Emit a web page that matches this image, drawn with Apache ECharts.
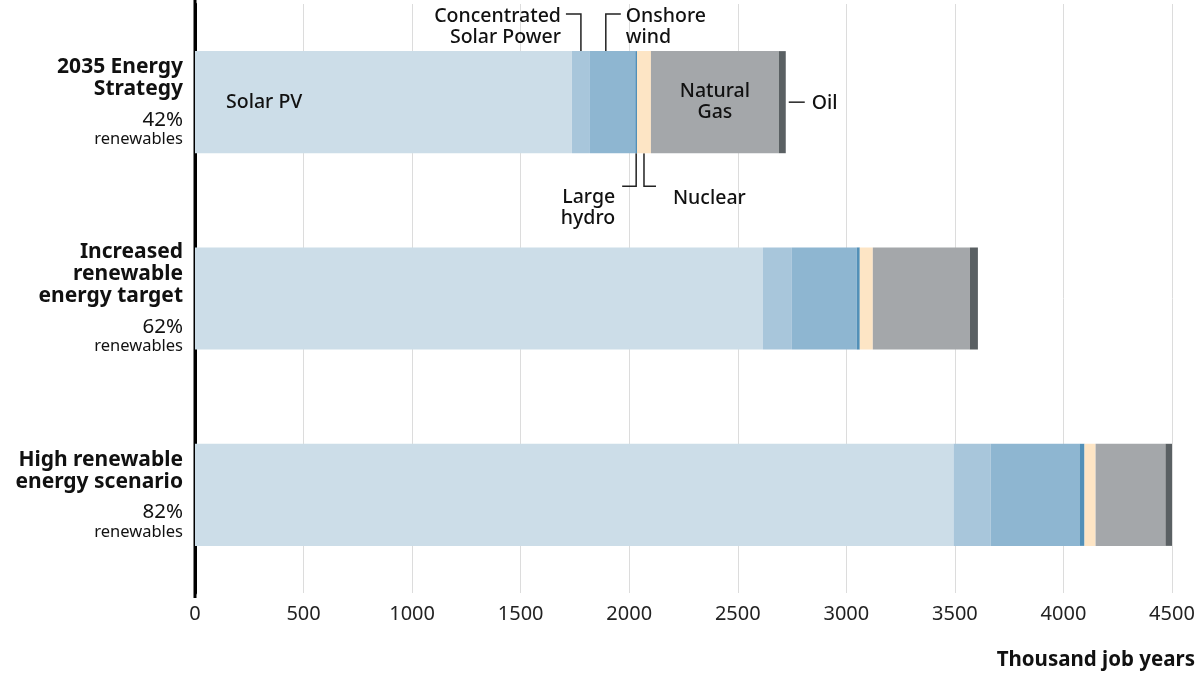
<!DOCTYPE html>
<html><head><meta charset="utf-8">
<script src="https://cdn.jsdelivr.net/npm/echarts@6/dist/echarts.min.js"></script>
<style>html,body{margin:0;padding:0;background:#fff}#c{width:1199px;height:674px}</style>
</head><body><div id="c"></div>
<script>
const categories = ['2035 Energy Strategy', 'Increased renewable energy target', 'High renewable energy scenario'];
const titleLines = [['2035 Energy', 'Strategy'], ['Increased', 'renewable', 'energy target'], ['High renewable', 'energy scenario']];
const renewShare = ['42%', '62%', '82%'];
const seriesNames = ['Solar PV', 'Concentrated Solar Power', 'Onshore wind', 'Large hydro', 'Nuclear', 'Natural Gas', 'Oil'];
const solarPV     = [1736, 2615, 3494];
const concSolar   = [83, 134, 170];
const onshoreWind = [209, 299, 410];
const largeHydro  = [8, 14, 23];
const nuclear     = [64, 60, 51];
const naturalGas  = [589, 447, 322];
const oil         = [32, 37, 37];
const xMin = 0, xMax = 4500, xInterval = 500;
const colors = ['#ccdde8', '#a8c6db', '#8eb6d1', '#5290b8', '#fde5c5', '#a4a7aa', '#5a6063'];
const allSeries = [solarPV, concSolar, onshoreWind, largeHydro, nuclear, naturalGas, oil];

const FONT = '"Noto Sans", "DejaVu Sans", sans-serif';
const ANN = 19.5;
const chart = echarts.init(document.getElementById('c'), null, {renderer: 'canvas'});

const series = allSeries.map((d, i) => {
  const s = {
    name: seriesNames[i], type: 'bar', stack: 'total', barWidth: '52%',
    itemStyle: {color: colors[i]}, emphasis: {disabled: true},
    data: d.map(v => ({value: v}))
  };
  if (i === 0) {
    s.data[0].label = {show: true, position: 'insideLeft', distance: 31, formatter: '{a}',
      fontFamily: FONT, fontSize: ANN, color: '#111', fontWeight: 500};
  }
  if (i === 5) {
    s.data[0].label = {show: true, position: 'inside', formatter: 'Natural\nGas', lineHeight: 21,
      fontFamily: FONT, fontSize: ANN, color: '#111', fontWeight: 500};
  }
  return s;
});

chart.setOption({
  animation: false,
  grid: {left: 195, right: 27, top: 4, bottom: 81, containLabel: false},
  xAxis: {
    type: 'value', min: xMin, max: xMax, interval: xInterval,
    axisLine: {show: false}, axisTick: {show: false},
    splitLine: {show: true, lineStyle: {color: '#dcdcdc', width: 1}},
    axisLabel: {fontFamily: FONT, fontSize: 20, color: '#222', margin: 11, formatter: v => String(v)},
    name: 'Thousand job years', nameLocation: 'end', nameGap: 23,
    nameTextStyle: {fontFamily: FONT, fontSize: 20.5, fontWeight: 'bold', color: '#111',
      align: 'right', verticalAlign: 'top', padding: [57, 0, 0, 0]}
  },
  yAxis: {
    type: 'category', data: categories, inverse: true,
    axisLine: {show: true, lineStyle: {color: '#000', width: 3}},
    axisTick: {show: false},
    axisLabel: {
      margin: 12, align: 'right',
      formatter: (v, idx) => {
        const lines = titleLines[idx].map(t => '{t|' + t + '}');
        return lines.join('\n') + '\n{p|' + renewShare[idx] + '}\n{s|renewables}';
      },
      rich: {
        t: {fontFamily: FONT, fontSize: 21, fontWeight: 'bold', color: '#111', lineHeight: 22, align: 'right'},
        p: {fontFamily: FONT, fontSize: 20.5, color: '#111', lineHeight: 30, align: 'right', verticalAlign: 'bottom'},
        s: {fontFamily: FONT, fontSize: 16.5, color: '#111', lineHeight: 18, align: 'right'}
      }
    }
  },
  series: series
});

// annotations anchored to the first bar via the chart's own scales
function px(v, cat) { return chart.convertToPixel({gridIndex: 0}, [v, cat]); }
const c0 = px(0, 0), c1 = px(0, 1);
const band = Math.abs(c1[1] - c0[1]);
const barH = band * 0.52;
const barTop = c0[1] - barH / 2, barBot = c0[1] + barH / 2;
const cum = [0];
allSeries.forEach((d, i) => cum.push(cum[i] + d[0]));
const X = v => px(v, 0)[0];
const lineStyle = {stroke: '#222', lineWidth: 1.5, fill: null};
const txt = (text, x, y, align) => ({type: 'text', silent: true,
  style: {text, x, y, textAlign: align, textVerticalAlign: 'middle', fontFamily: FONT, fontSize: ANN,
    fontWeight: 500, fill: '#111', lineHeight: 21}});
const pl = pts => ({type: 'polyline', silent: true, shape: {points: pts}, style: lineStyle});

const xCsp = X(cum[1] + concSolar[0] / 2);
const xWind = X(cum[2] + onshoreWind[0] * 0.35);
const xHydro = X(cum[3] + largeHydro[0] * 0.5);
const xNuc = X(cum[4] + nuclear[0] * 0.5);
const xOilEnd = X(cum[7]);
const yTopLine = barTop - 37, yBotLine = barBot + 33;
const yAxisX = X(0);
const gridBottomY = px(0, 2)[1] + band / 2;

chart.setOption({graphic: [
  {type: 'line', silent: true, shape: {x1: yAxisX, y1: 0, x2: yAxisX, y2: gridBottomY + 5},
    style: {stroke: '#000', lineWidth: 3}},
  pl([[xCsp - 15, yTopLine], [xCsp, yTopLine], [xCsp, barTop]]),
  txt('Concentrated\nSolar Power', xCsp - 20, yTopLine + 13, 'right'),
  pl([[xWind + 15, yTopLine], [xWind, yTopLine], [xWind, barTop]]),
  txt('Onshore\nwind', xWind + 20, yTopLine + 13, 'left'),
  pl([[xHydro, barBot], [xHydro, yBotLine], [xHydro - 14, yBotLine]]),
  txt('Large\nhydro', xHydro - 21, yBotLine + 22, 'right'),
  pl([[xNuc, barBot], [xNuc, yBotLine], [xNuc + 12, yBotLine]]),
  txt('Nuclear', xNuc + 29, yBotLine + 12, 'left'),
  pl([[xOilEnd + 3, c0[1]], [xOilEnd + 19, c0[1]]]),
  txt('Oil', xOilEnd + 26, c0[1] + 1, 'left')
]});
</script></body></html>
